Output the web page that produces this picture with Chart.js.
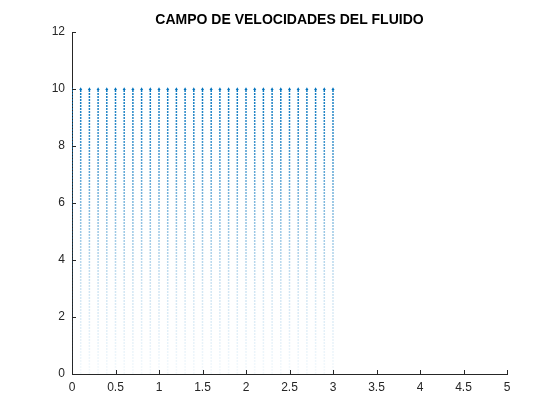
<!DOCTYPE html>
<html>
<head>
<meta charset="utf-8">
<script src="https://cdn.jsdelivr.net/npm/chart.js@4"></script>
<style>
  html, body { margin: 0; padding: 0; background: #fff; }
  #wrap { width: 560px; height: 420px; }
</style>
</head>
<body>
<div id="wrap"><canvas id="quiver"></canvas></div>
<script>
// Posiciones de las columnas de vectores (x)
const xCols = [0, 0.1, 0.2, 0.3, 0.4, 0.5, 0.6, 0.7, 0.8, 0.9, 1.0,
               1.1, 1.2, 1.3, 1.4, 1.5, 1.6, 1.7, 1.8, 1.9, 2.0,
               2.1, 2.2, 2.3, 2.4, 2.5, 2.6, 2.7, 2.8, 2.9, 3.0];
// Extremos de cada columna (y)
const yStart = 0;
const yEnd = 10;
// Marcas de los ejes
const xTicks = [0, 0.5, 1, 1.5, 2, 2.5, 3, 3.5, 4, 4.5, 5];
const yTicks = [0, 2, 4, 6, 8, 10, 12];
const titulo = 'CAMPO DE VELOCIDADES DEL FLUIDO';

const azul = '#0072BD';

// Degradado: la velocidad crece con y
function colorColumna(ctx) {
    const chart = ctx.chart;
    if (!chart.chartArea) return azul;
    const ys = chart.scales.y;
    const g = chart.ctx.createLinearGradient(0, ys.getPixelForValue(yStart), 0, ys.getPixelForValue(yEnd));
    g.addColorStop(0, 'rgba(0,114,189,0.04)');
    g.addColorStop(0.3, 'rgba(0,114,189,0.18)');
    g.addColorStop(0.6, 'rgba(0,114,189,0.5)');
    g.addColorStop(0.8, 'rgba(0,114,189,0.75)');
    g.addColorStop(1, 'rgba(0,114,189,0.95)');
    return g;
}

const datasets = xCols.map(x => ({
    data: [{ x: x, y: yStart }, { x: x, y: yEnd }],
    showLine: true,
    borderColor: colorColumna,
    borderWidth: 1.5,
    borderDash: [2, 1],
    pointRadius: [0, 1.8],
    pointStyle: 'triangle',
    pointBackgroundColor: azul,
    pointBorderColor: azul,
    pointBorderWidth: 0
}));

// Título y marcas hacia dentro, estilo MATLAB
const estiloMatlab = {
    id: 'estiloMatlab',
    afterDraw(chart) {
        const c = chart.ctx;
        const a = chart.chartArea;
        const xs = chart.scales.x, ys = chart.scales.y;
        c.save();
        c.strokeStyle = '#262626';
        c.lineWidth = 1;
        c.beginPath();
        xTicks.forEach(t => {
            const px = Math.round(xs.getPixelForValue(t)) + 0.5;
            c.moveTo(px, a.bottom);
            c.lineTo(px, a.bottom - 4);
        });
        yTicks.forEach(t => {
            const py = Math.round(ys.getPixelForValue(t)) + 0.5;
            c.moveTo(a.left, py);
            c.lineTo(a.left + 4, py);
        });
        c.stroke();
        c.fillStyle = '#000';
        c.font = 'bold 14px "Liberation Sans", Arial, sans-serif';
        c.textAlign = 'center';
        c.textBaseline = 'alphabetic';
        c.fillText(titulo, (a.left + a.right) / 2, 24);
        c.restore();
    }
};

const ctx = document.getElementById('quiver').getContext('2d');
new Chart(ctx, {
    type: 'scatter',
    data: { datasets: datasets },
    plugins: [estiloMatlab],
    options: {
        responsive: true,
        maintainAspectRatio: false,
        animation: false,
        events: [],
        layout: { padding: { left: 0, right: 53, top: 32, bottom: 0 } },
        plugins: { legend: { display: false }, tooltip: { enabled: false } },
        scales: {
            x: {
                type: 'linear',
                min: 0, max: 5,
                afterBuildTicks: s => { s.ticks = xTicks.map(v => ({ value: v })); },
                afterFit: s => { s.height = 46; },
                grid: { display: false, drawTicks: false },
                border: { display: true, color: '#262626', width: 1 },
                ticks: {
                    color: '#262626', padding: 6,
                    font: { family: '"Liberation Sans", Arial, sans-serif', size: 12 },
                    callback: v => String(v)
                }
            },
            y: {
                type: 'linear',
                min: 0, max: 12,
                afterBuildTicks: s => { s.ticks = yTicks.map(v => ({ value: v })); },
                afterFit: s => { s.width = 72; },
                grid: { display: false, drawTicks: false },
                border: { display: true, color: '#262626', width: 1 },
                ticks: {
                    color: '#262626', padding: 7,
                    font: { family: '"Liberation Sans", Arial, sans-serif', size: 12 },
                    callback: v => String(v)
                }
            }
        }
    }
});
</script>
</body>
</html>
